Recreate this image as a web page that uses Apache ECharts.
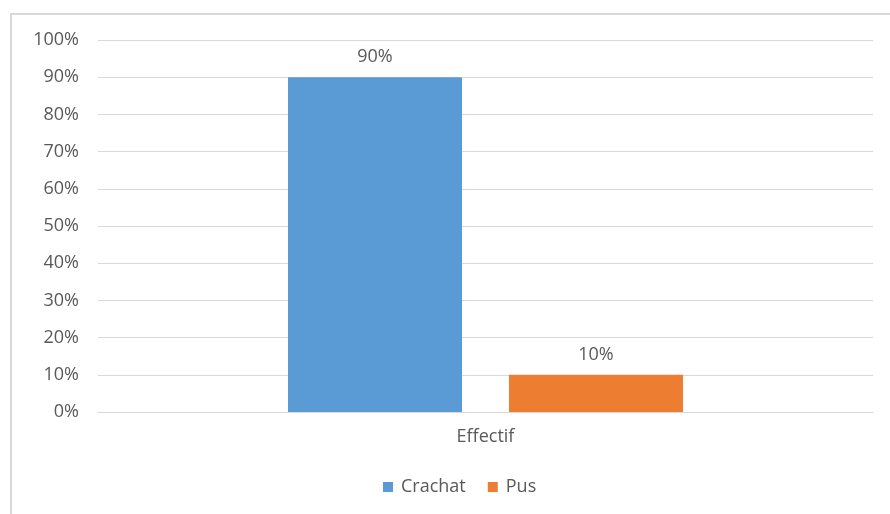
<!DOCTYPE html>
<html>
<head>
<meta charset="utf-8">
<script src="https://cdn.jsdelivr.net/npm/echarts@6/dist/echarts.min.js"></script>
<style>
  html, body { margin: 0; padding: 0; background: #fff; }
  .frame {
    position: absolute; left: 10px; top: 13px; width: 900px; height: 520px;
    border: 2px solid #d9d9d9; box-sizing: border-box;
  }
  #chart { position: absolute; left: 0; top: 0; width: 890px; height: 514px; }
</style>
</head>
<body>
<div class="frame"></div>
<div id="chart"></div>
<script>
  // data
  const categories = ['Effectif'];
  const crachat = [90];
  const pus = [10];
  const yTicks = [0, 10, 20, 30, 40, 50, 60, 70, 80, 90, 100];

  const textColor = '#595959';
  const font = '"Open Sans", sans-serif';
  const fs = 18;

  let chart = echarts.init(document.getElementById('chart'));
  let option = {
    animation: false,
    grid: { left: 98, right: 17, top: 40, bottom: 102 },
    legend: {
      bottom: 13,
      left: 378,
      itemWidth: 10,
      itemHeight: 10,
      itemGap: 22,
      icon: 'rect',
      textStyle: { color: textColor, fontSize: fs, fontFamily: font, padding: [0, 0, 0, 3] },
      data: ['Crachat', 'Pus']
    },
    xAxis: {
      type: 'category',
      data: categories,
      axisLine: { lineStyle: { color: '#d9d9d9', width: 1 } },
      axisTick: { show: false },
      axisLabel: { color: textColor, fontSize: fs, fontFamily: font, margin: 16 }
    },
    yAxis: {
      type: 'value',
      min: yTicks[0],
      max: yTicks[yTicks.length - 1],
      interval: 10,
      axisLine: { show: false },
      axisTick: { show: false },
      splitLine: { lineStyle: { color: '#d9d9d9', width: 1 } },
      axisLabel: {
        color: textColor, fontSize: fs, fontFamily: font, margin: 19,
        formatter: v => v + '%'
      }
    },
    series: [
      {
        name: 'Crachat',
        type: 'bar',
        data: crachat,
        barWidth: 174,
        barGap: '27%',
        itemStyle: { color: '#5b9bd5' },
        label: {
          show: true, position: 'top', distance: 11,
          color: textColor, fontSize: fs, fontFamily: font,
          formatter: p => p.value + '%'
        }
      },
      {
        name: 'Pus',
        type: 'bar',
        data: pus,
        barWidth: 174,
        itemStyle: { color: '#ed7d31' },
        label: {
          show: true, position: 'top', distance: 11,
          color: textColor, fontSize: fs, fontFamily: font,
          formatter: p => p.value + '%'
        }
      }
    ]
  };
  chart.setOption(option);
</script>
</body>
</html>
